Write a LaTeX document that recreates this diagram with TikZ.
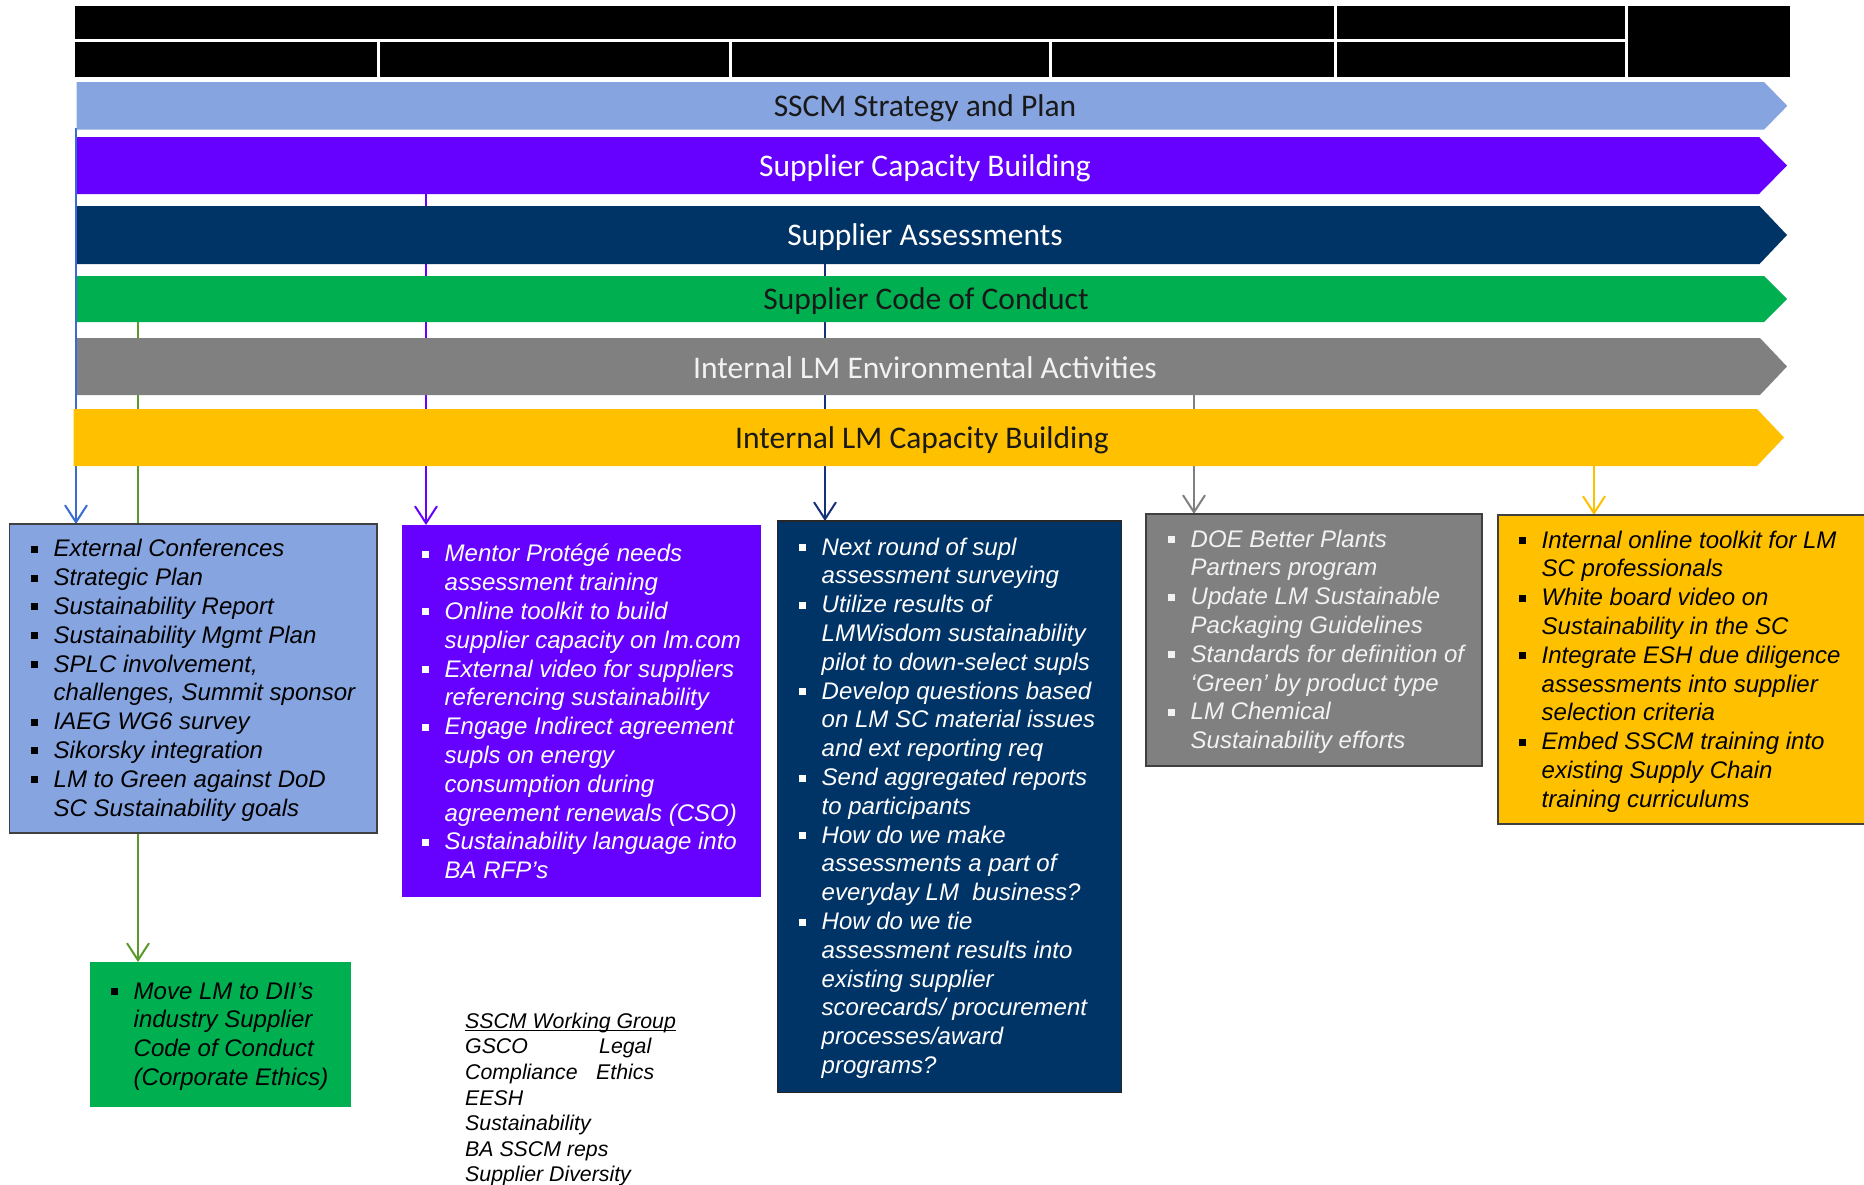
\documentclass[tikz,border=0pt]{standalone}
\usepackage{fontspec}
\usetikzlibrary{arrows.meta}
\newfontfamily\calib{Carlito}
\newfontfamily\arial{Liberation Sans}
\definecolor{lblue}{HTML}{86A4E0}
\definecolor{purp}{HTML}{6600FF}
\definecolor{navy}{HTML}{003366}
\definecolor{grn}{HTML}{00B050}
\definecolor{gry}{HTML}{808080}
\definecolor{amber}{HTML}{FFC000}
\definecolor{cblue}{HTML}{3A6AD4}
\definecolor{cgreen}{HTML}{5B9A2A}
\definecolor{cnavy}{HTML}{17307A}
\definecolor{bord}{HTML}{404040}
\definecolor{offwhite}{HTML}{F2F2F2}
\newcommand{\bi}{\makebox[22.5pt][l]{\rule[4pt]{7pt}{7pt}}}
\newcommand{\ci}{\hspace*{22.5pt}}
\newcommand{\myul}[1]{\setbox0\hbox{#1}\rlap{\rule[-2.6pt]{\wd0}{1.1pt}}\box0}
\newcommand{\bandshape}[6]{\fill[#1] (#2,#3) -- (#5,#3) -- (#6,{(#3+#4)/2}) -- (#5,#4) -- (#2,#4) -- cycle;}
\tikzset{
  conn/.style={line width=2pt, -{Straight Barb[length=17pt,width=22pt]}},
  boxs/.style={rectangle, inner sep=0pt, outer sep=0pt, anchor=north west, line width=1.5pt},
  txt/.style={inner sep=0pt, anchor=north west, align=left, font=\arial\itshape\fontsize{24}{28.8}\selectfont},
  wg/.style={inner sep=0pt, anchor=north west, align=left, font=\arial\itshape\fontsize{21.3}{25.6}\selectfont},
  lbl/.style={inner sep=0pt, anchor=base, font=\calib\fontsize{31.5}{36}\selectfont},
}
\begin{document}
\begin{tikzpicture}[x=1pt,y=-1pt]
\clip (0,0) rectangle (1864,1184);
\fill[white] (0,0) rectangle (1864,1184);
% header
\fill[black] (75,6) rectangle (1790,77.3);
\draw[white, line width=2.7pt] (75,40.3) -- (1626.7,40.3);
\foreach \xx in {378.5,730.5,1050.5} \draw[white, line width=2.7pt] (\xx,40.3) -- (\xx,77.3);
\foreach \xx in {1335.5,1626.7} \draw[white, line width=2.7pt] (\xx,6) -- (\xx,77.3);
% connector start coordinates
\coordinate (s1) at (76,128);
\coordinate (s2) at (426,194);
\coordinate (s3) at (825,264);
\coordinate (s4) at (138,322);
\coordinate (s5) at (1194,395);
\coordinate (s6) at (1594,466);
% boxes (placed first for anchors, drawn later)
\path (9.5,524) node[boxs, minimum width=367.5pt, minimum height=309pt] (box1) {};
\path (402,525) node[boxs, minimum width=359pt, minimum height=372pt] (box2) {};
\path (777.5,521) node[boxs, minimum width=344pt, minimum height=571.5pt] (box3) {};
\path (1146,514) node[boxs, minimum width=336pt, minimum height=252pt] (box4) {};
\path (1498,515) node[boxs, minimum width=372pt, minimum height=309pt] (box5) {};
\path (90,962) node[boxs, minimum width=261pt, minimum height=144.5pt] (box6) {};
% connectors
\draw[conn, cblue] (s1) -- (s1 |- box1.north);
\draw[conn, cgreen] (s4) -- (s4 |- box6.north);
\draw[conn, purp] (s2) -- (s2 |- box2.north);
\draw[conn, cnavy] (s3) -- (s3 |- box3.north);
\draw[conn, gry] (s5) -- (s5 |- box4.north);
\draw[conn, amber] (s6) -- (s6 |- box5.north);
% bands
\bandshape{lblue}{76.7}{82}{129.7}{1764}{1787.3}
\bandshape{purp}{77}{137}{194}{1759}{1787}
\bandshape{navy}{77}{206}{264}{1759.5}{1787}
\bandshape{grn}{77}{276}{322}{1764}{1787}
\bandshape{gry}{77}{338}{395}{1760}{1787}
\bandshape{amber}{73.7}{409}{466}{1757}{1784}
\node[lbl, text=black!90] (band1) at (925,116.5) {SSCM Strategy and Plan};
\node[lbl, text=white] (band2) at (925,176.5) {Supplier Capacity Building};
\node[lbl, text=white] (band3) at (925,245.7) {Supplier Assessments};
\node[lbl, text=black!90] (band4) at (926,309.3) {Supplier Code of Conduct};
\node[lbl, text=offwhite] (band5) at (925,378.3) {Internal LM Environmental Activities};
\node[lbl, text=black!90] (band6) at (922,448.3) {Internal LM Capacity Building};
% box fills
\path[fill=lblue, draw=bord, line width=1.5pt] (box1.north west) rectangle (box1.south east);
\path[fill=purp] (box2.north west) rectangle (box2.south east);
\path[fill=navy, draw=black!85, line width=1.5pt] (box3.north west) rectangle (box3.south east);
\path[fill=gry, draw=bord, line width=1.5pt] (box4.north west) rectangle (box4.south east);
\path[fill=amber, draw=bord, line width=1.5pt] (box5.north west) rectangle (box5.south east);
\path[fill=grn] (box6.north west) rectangle (box6.south east);
% box texts
\node[txt, text=black] (t1) at (31,536.5) {\strut\bi External Conferences\\
\bi Strategic Plan\\
\bi Sustainability Report\\
\bi Sustainability Mgmt Plan\\
\bi SPLC involvement,\\
\ci challenges, Summit sponsor\\
\bi IAEG WG6 survey\\
\bi Sikorsky integration\\
\bi LM to Green against DoD\\
\ci SC Sustainability goals};
\node[txt, text=white] (t2) at (422,541.5) {\strut\bi Mentor Protégé needs\\
\ci assessment training\\
\bi Online toolkit to build\\
\ci supplier capacity on lm.com\\
\bi External video for suppliers\\
\ci referencing sustainability\\
\bi Engage Indirect agreement\\
\ci supls on energy\\
\ci consumption during\\
\ci agreement renewals (CSO)\\
\bi Sustainability language into\\
\ci BA RFP’s};
\node[txt, text=white] (t3) at (799,534.8) {\strut\bi Next round of supl\\
\ci assessment surveying\\
\bi Utilize results of\\
\ci LMWisdom sustainability\\
\ci pilot to down-select supls\\
\bi Develop questions based\\
\ci on LM SC material issues\\
\ci and ext reporting req\\
\bi Send aggregated reports\\
\ci to participants\\
\bi How do we make\\
\ci assessments a part of\\
\ci everyday LM\ \ business?\\
\bi How do we tie\\
\ci assessment results into\\
\ci existing supplier\\
\ci scorecards/ procurement\\
\ci processes/award\\
\ci programs?};
\node[txt, text=offwhite] (t4) at (1168,526.8) {\strut\bi DOE Better Plants\\
\ci Partners program\\
\bi Update LM Sustainable\\
\ci Packaging Guidelines\\
\bi Standards for definition of\\
\ci ‘Green’ by product type\\
\bi LM Chemical\\
\ci Sustainability efforts};
\node[txt, text=black] (t5) at (1519,527.8) {\strut\bi Internal online toolkit for LM\\
\ci SC professionals\\
\bi White board video on\\
\ci Sustainability in the SC\\
\bi Integrate ESH due diligence\\
\ci assessments into supplier\\
\ci selection criteria\\
\bi Embed SSCM training into\\
\ci existing Supply Chain\\
\ci training curriculums};
\node[txt, text=black] (t6) at (111,978.8) {\strut\bi Move LM to DII’s\\
\ci industry Supplier\\
\ci Code of Conduct\\
\ci (Corporate Ethics)};
% working group
\node[wg, text=black] (wg) at (465,1010.1) {\strut\myul{SSCM Working Group}\\
\makebox[134pt][l]{GSCO}Legal\\
\makebox[131pt][l]{Compliance}Ethics\\
EESH\\
Sustainability\\
BA SSCM reps\\
Supplier Diversity};
\end{tikzpicture}
\end{document}
